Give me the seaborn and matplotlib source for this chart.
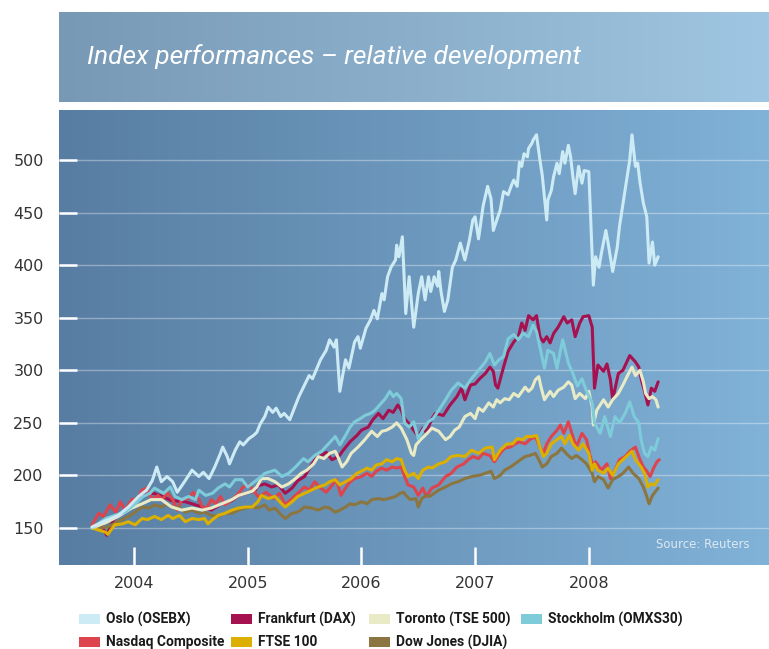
import matplotlib

matplotlib.use("Agg")
import matplotlib.pyplot as plt
import numpy as np
import pandas as pd
import seaborn as sns
from matplotlib.colors import LinearSegmentedColormap
from matplotlib.patches import Rectangle

# --- data: index levels (decimal year, index value) ---
oslo_years = [2003.63, 2003.75, 2003.86, 2003.95, 2004.04, 2004.11, 2004.16, 2004.20, 2004.24, 2004.29,
              2004.34, 2004.38, 2004.45, 2004.51, 2004.57, 2004.61, 2004.66, 2004.71, 2004.76, 2004.78,
              2004.82, 2004.84, 2004.89, 2004.93, 2004.96, 2005.01, 2005.05, 2005.08, 2005.11, 2005.15,
              2005.18, 2005.22, 2005.25, 2005.29, 2005.32, 2005.37, 2005.45, 2005.54, 2005.57, 2005.64,
              2005.69, 2005.72, 2005.76, 2005.78, 2005.81, 2005.86, 2005.89, 2005.94, 2005.97, 2005.99,
              2006.04, 2006.08, 2006.11, 2006.14, 2006.18, 2006.20, 2006.23, 2006.26, 2006.30, 2006.31,
              2006.33, 2006.36, 2006.39, 2006.42, 2006.46, 2006.50, 2006.53, 2006.56, 2006.59, 2006.61,
              2006.64, 2006.67, 2006.68, 2006.70, 2006.73, 2006.76, 2006.80, 2006.83, 2006.87, 2006.91,
              2006.95, 2006.98, 2007.00, 2007.03, 2007.07, 2007.11, 2007.14, 2007.16, 2007.20, 2007.22,
              2007.25, 2007.29, 2007.32, 2007.34, 2007.37, 2007.39, 2007.41, 2007.43, 2007.46, 2007.47,
              2007.50, 2007.51, 2007.54, 2007.57, 2007.59, 2007.63, 2007.64, 2007.67, 2007.69, 2007.72,
              2007.74, 2007.77, 2007.79, 2007.82, 2007.84, 2007.86, 2007.88, 2007.91, 2007.94, 2007.96,
              2008.00, 2008.04, 2008.06, 2008.09, 2008.11, 2008.15, 2008.17, 2008.21, 2008.25, 2008.27,
              2008.31, 2008.36, 2008.38, 2008.41, 2008.43, 2008.45, 2008.48, 2008.51, 2008.53, 2008.56,
              2008.58, 2008.61]
oslo_values = [151, 157, 162, 170, 180, 186, 195, 208, 194, 199,
               194, 184, 195, 205, 199, 203, 197, 208, 221, 227,
               218, 211, 224, 232, 229, 235, 238, 241, 249, 256,
               265, 260, 264, 256, 259, 253, 275, 295, 292, 310,
               319, 329, 322, 329, 280, 310, 302, 327, 332, 321,
               340, 348, 357, 349, 373, 367, 389, 398, 405, 419,
               408, 427, 354, 389, 341, 373, 389, 367, 389, 375,
               389, 380, 394, 375, 356, 367, 398, 405, 421, 405,
               424, 443, 446, 425, 456, 475, 463, 433, 446, 452,
               470, 467, 476, 481, 475, 498, 494, 506, 503, 511,
               516, 519, 524, 500, 486, 443, 462, 471, 484, 497,
               487, 508, 497, 514, 503, 484, 468, 494, 478, 490,
               489, 381, 408, 398, 411, 433, 421, 394, 417, 437,
               465, 500, 524, 494, 497, 479, 459, 446, 402, 422,
               400, 408]

dax_years = [2003.63, 2003.70, 2003.76, 2003.82, 2003.92, 2004.07, 2004.17, 2004.25, 2004.33, 2004.45,
             2004.60, 2004.68, 2004.77, 2004.86, 2004.92, 2005.01, 2005.06, 2005.09, 2005.15, 2005.21,
             2005.27, 2005.33, 2005.39, 2005.44, 2005.50, 2005.56, 2005.61, 2005.65, 2005.69, 2005.74,
             2005.80, 2005.84, 2005.90, 2005.96, 2006.00, 2006.06, 2006.10, 2006.15, 2006.19, 2006.24,
             2006.28, 2006.32, 2006.35, 2006.38, 2006.42, 2006.46, 2006.50, 2006.54, 2006.57, 2006.62,
             2006.65, 2006.72, 2006.78, 2006.84, 2006.88, 2006.91, 2006.96, 2007.00, 2007.04, 2007.09,
             2007.13, 2007.16, 2007.18, 2007.20, 2007.25, 2007.29, 2007.34, 2007.38, 2007.41, 2007.44,
             2007.47, 2007.51, 2007.54, 2007.57, 2007.60, 2007.63, 2007.66, 2007.69, 2007.73, 2007.78,
             2007.81, 2007.85, 2007.88, 2007.92, 2007.95, 2008.00, 2008.03, 2008.05, 2008.08, 2008.13,
             2008.16, 2008.19, 2008.21, 2008.26, 2008.30, 2008.36, 2008.41, 2008.44, 2008.46, 2008.49,
             2008.52, 2008.55, 2008.58, 2008.61]
dax_values = [150, 155, 143, 158, 167, 181, 183, 180, 176, 175,
              170, 167, 173, 176, 181, 184, 185, 190, 192, 189,
              191, 183, 188, 195, 199, 210, 218, 219, 222, 215,
              218, 224, 232, 238, 243, 246, 253, 259, 254, 262,
              260, 267, 262, 254, 249, 243, 237, 245, 241, 254,
              259, 257, 267, 275, 283, 272, 286, 287, 292, 297,
              303, 299, 286, 283, 303, 318, 327, 332, 345, 338,
              352, 348, 352, 332, 327, 332, 326, 335, 341, 351,
              345, 348, 332, 345, 351, 352, 341, 283, 305, 299,
              306, 291, 272, 297, 300, 314, 308, 303, 292, 280,
              267, 283, 280, 289]

toronto_years = [2003.63, 2003.75, 2003.86, 2003.98, 2004.07, 2004.15, 2004.24, 2004.33, 2004.42, 2004.51,
                 2004.60, 2004.68, 2004.77, 2004.86, 2004.92, 2004.98, 2005.04, 2005.08, 2005.12, 2005.18,
                 2005.24, 2005.30, 2005.36, 2005.42, 2005.47, 2005.52, 2005.58, 2005.62, 2005.67, 2005.72,
                 2005.77, 2005.80, 2005.83, 2005.87, 2005.91, 2005.97, 2006.03, 2006.09, 2006.14, 2006.18,
                 2006.22, 2006.27, 2006.31, 2006.35, 2006.40, 2006.44, 2006.46, 2006.48, 2006.52, 2006.56,
                 2006.62, 2006.68, 2006.74, 2006.78, 2006.82, 2006.86, 2006.91, 2006.96, 2007.00, 2007.03,
                 2007.07, 2007.12, 2007.16, 2007.19, 2007.22, 2007.26, 2007.30, 2007.34, 2007.38, 2007.44,
                 2007.47, 2007.50, 2007.53, 2007.56, 2007.58, 2007.61, 2007.66, 2007.69, 2007.73, 2007.78,
                 2007.82, 2007.85, 2007.88, 2007.92, 2007.97, 2008.00, 2008.03, 2008.04, 2008.07, 2008.13,
                 2008.17, 2008.21, 2008.26, 2008.30, 2008.35, 2008.38, 2008.41, 2008.45, 2008.48, 2008.50,
                 2008.53, 2008.56, 2008.59, 2008.61]
toronto_values = [150, 155, 161, 169, 173, 177, 177, 170, 167, 169,
                  167, 169, 173, 177, 181, 183, 185, 189, 197, 197,
                  194, 189, 192, 197, 202, 205, 211, 218, 216, 221,
                  223, 216, 208, 213, 221, 227, 234, 242, 237, 242,
                  243, 246, 250, 245, 234, 221, 219, 229, 234, 238,
                  245, 242, 234, 237, 243, 246, 256, 259, 254, 264,
                  261, 269, 265, 272, 269, 273, 272, 278, 275, 284,
                  280, 283, 291, 294, 284, 272, 280, 275, 281, 284,
                  289, 286, 273, 278, 273, 280, 265, 248, 262, 272,
                  265, 272, 278, 286, 297, 303, 295, 300, 289, 278,
                  273, 275, 272, 265]

stockholm_years = [2003.63, 2003.75, 2003.83, 2003.92, 2004.01, 2004.08, 2004.14, 2004.18, 2004.26, 2004.32,
                   2004.36, 2004.42, 2004.48, 2004.54, 2004.57, 2004.63, 2004.69, 2004.74, 2004.80, 2004.84,
                   2004.89, 2004.95, 2005.00, 2005.06, 2005.12, 2005.15, 2005.24, 2005.30, 2005.36, 2005.42,
                   2005.49, 2005.53, 2005.59, 2005.65, 2005.71, 2005.77, 2005.81, 2005.86, 2005.90, 2005.94,
                   2005.99, 2006.03, 2006.08, 2006.12, 2006.16, 2006.21, 2006.25, 2006.28, 2006.31, 2006.35,
                   2006.38, 2006.42, 2006.46, 2006.50, 2006.54, 2006.59, 2006.63, 2006.68, 2006.74, 2006.79,
                   2006.85, 2006.91, 2006.96, 2007.03, 2007.09, 2007.13, 2007.17, 2007.21, 2007.25, 2007.29,
                   2007.34, 2007.38, 2007.42, 2007.47, 2007.51, 2007.54, 2007.57, 2007.61, 2007.64, 2007.69,
                   2007.72, 2007.77, 2007.82, 2007.86, 2007.90, 2007.94, 2007.98, 2008.03, 2008.05, 2008.10,
                   2008.14, 2008.19, 2008.23, 2008.27, 2008.32, 2008.36, 2008.40, 2008.44, 2008.46, 2008.49,
                   2008.52, 2008.55, 2008.58, 2008.61]
stockholm_values = [150, 159, 162, 165, 173, 180, 183, 188, 183, 189,
                    180, 177, 180, 177, 186, 181, 183, 188, 192, 189,
                    196, 196, 189, 194, 199, 202, 205, 199, 202, 208,
                    216, 213, 219, 223, 230, 237, 229, 238, 246, 251,
                    254, 257, 259, 262, 267, 273, 280, 275, 278, 273,
                    250, 246, 251, 235, 243, 251, 254, 262, 272, 281,
                    288, 283, 291, 300, 308, 316, 305, 310, 313, 330,
                    334, 329, 335, 332, 343, 337, 322, 302, 319, 316,
                    302, 329, 307, 297, 285, 292, 280, 269, 250, 240,
                    256, 237, 256, 250, 259, 270, 256, 250, 234, 221,
                    218, 227, 224, 235]

nasdaq_years = [2003.63, 2003.69, 2003.73, 2003.79, 2003.84, 2003.88, 2003.92, 2003.98, 2004.03, 2004.07,
                2004.11, 2004.16, 2004.21, 2004.25, 2004.29, 2004.34, 2004.38, 2004.42, 2004.48, 2004.52,
                2004.57, 2004.60, 2004.64, 2004.68, 2004.72, 2004.76, 2004.80, 2004.86, 2004.92, 2004.96,
                2005.01, 2005.05, 2005.09, 2005.12, 2005.16, 2005.23, 2005.28, 2005.33, 2005.39, 2005.44,
                2005.50, 2005.54, 2005.59, 2005.63, 2005.69, 2005.73, 2005.78, 2005.82, 2005.86, 2005.90,
                2005.94, 2006.00, 2006.05, 2006.09, 2006.13, 2006.18, 2006.22, 2006.27, 2006.31, 2006.35,
                2006.38, 2006.41, 2006.46, 2006.50, 2006.54, 2006.57, 2006.62, 2006.68, 2006.74, 2006.79,
                2006.84, 2006.90, 2006.94, 2006.98, 2007.03, 2007.07, 2007.13, 2007.17, 2007.22, 2007.26,
                2007.31, 2007.35, 2007.39, 2007.44, 2007.48, 2007.53, 2007.57, 2007.60, 2007.63, 2007.67,
                2007.72, 2007.75, 2007.78, 2007.82, 2007.86, 2007.89, 2007.94, 2007.98, 2008.01, 2008.04,
                2008.06, 2008.11, 2008.16, 2008.19, 2008.23, 2008.27, 2008.32, 2008.36, 2008.41, 2008.45,
                2008.48, 2008.51, 2008.54, 2008.57, 2008.60, 2008.62]
nasdaq_values = [153, 164, 161, 172, 165, 175, 167, 177, 178, 186,
                 188, 177, 181, 177, 184, 177, 167, 177, 178, 184,
                 177, 170, 169, 177, 173, 180, 172, 177, 183, 189,
                 191, 186, 180, 181, 184, 178, 183, 172, 178, 183,
                 189, 186, 194, 189, 184, 189, 196, 181, 188, 194,
                 197, 199, 202, 199, 204, 207, 205, 208, 207, 208,
                 199, 191, 189, 181, 188, 180, 188, 191, 199, 202,
                 208, 211, 215, 218, 216, 221, 219, 213, 221, 226,
                 227, 230, 232, 230, 234, 237, 227, 221, 230, 237,
                 243, 248, 240, 251, 237, 227, 240, 234, 219, 208,
                 213, 205, 211, 197, 205, 215, 218, 223, 227, 215,
                 208, 204, 199, 207, 213, 215]

ftse_years = [2003.63, 2003.69, 2003.75, 2003.77, 2003.83, 2003.90, 2003.95, 2004.01, 2004.07, 2004.12,
              2004.18, 2004.24, 2004.30, 2004.34, 2004.40, 2004.45, 2004.51, 2004.57, 2004.62, 2004.65,
              2004.69, 2004.74, 2004.80, 2004.86, 2004.92, 2004.98, 2005.04, 2005.09, 2005.12, 2005.18,
              2005.24, 2005.30, 2005.33, 2005.39, 2005.44, 2005.50, 2005.56, 2005.62, 2005.68, 2005.72,
              2005.77, 2005.81, 2005.86, 2005.91, 2005.96, 2006.00, 2006.05, 2006.09, 2006.13, 2006.18,
              2006.22, 2006.27, 2006.31, 2006.35, 2006.38, 2006.41, 2006.46, 2006.50, 2006.54, 2006.59,
              2006.62, 2006.68, 2006.74, 2006.79, 2006.85, 2006.91, 2006.97, 2007.03, 2007.09, 2007.15,
              2007.17, 2007.22, 2007.28, 2007.33, 2007.37, 2007.42, 2007.45, 2007.50, 2007.54, 2007.57,
              2007.60, 2007.63, 2007.67, 2007.72, 2007.76, 2007.79, 2007.83, 2007.86, 2007.91, 2007.95,
              2008.00, 2008.03, 2008.05, 2008.08, 2008.13, 2008.17, 2008.21, 2008.26, 2008.30, 2008.34,
              2008.38, 2008.41, 2008.46, 2008.49, 2008.52, 2008.55, 2008.58, 2008.61]
ftse_values = [150, 148, 146, 144, 153, 154, 156, 153, 159, 158,
               161, 158, 162, 159, 162, 156, 159, 158, 159, 154,
               158, 162, 164, 167, 169, 170, 170, 175, 181, 178,
               180, 173, 170, 175, 180, 183, 186, 189, 191, 194,
               196, 191, 194, 197, 202, 204, 207, 205, 210, 211,
               215, 213, 216, 215, 205, 199, 202, 197, 205, 208,
               207, 211, 213, 218, 219, 218, 224, 221, 226, 227,
               215, 224, 230, 230, 235, 234, 237, 237, 238, 227,
               218, 221, 230, 234, 237, 230, 238, 230, 224, 230,
               221, 205, 211, 205, 202, 207, 200, 211, 215, 219,
               223, 215, 208, 202, 189, 192, 191, 196]

dow_years = [2003.63, 2003.70, 2003.77, 2003.86, 2003.95, 2004.01, 2004.07, 2004.13, 2004.18, 2004.24,
             2004.30, 2004.34, 2004.39, 2004.45, 2004.51, 2004.57, 2004.62, 2004.68, 2004.74, 2004.80,
             2004.86, 2004.92, 2004.98, 2005.04, 2005.09, 2005.15, 2005.19, 2005.24, 2005.28, 2005.33,
             2005.39, 2005.44, 2005.50, 2005.56, 2005.62, 2005.68, 2005.72, 2005.77, 2005.81, 2005.86,
             2005.90, 2005.94, 2006.00, 2006.05, 2006.09, 2006.15, 2006.19, 2006.24, 2006.30, 2006.34,
             2006.37, 2006.40, 2006.43, 2006.48, 2006.50, 2006.53, 2006.57, 2006.60, 2006.64, 2006.68,
             2006.74, 2006.79, 2006.85, 2006.91, 2006.97, 2007.03, 2007.09, 2007.14, 2007.17, 2007.22,
             2007.26, 2007.31, 2007.35, 2007.40, 2007.44, 2007.48, 2007.53, 2007.56, 2007.59, 2007.63,
             2007.67, 2007.72, 2007.76, 2007.80, 2007.85, 2007.89, 2007.94, 2007.98, 2008.03, 2008.05,
             2008.08, 2008.13, 2008.17, 2008.21, 2008.26, 2008.30, 2008.35, 2008.39, 2008.44, 2008.48,
             2008.51, 2008.53, 2008.56, 2008.61]
dow_values = [150, 150, 151, 156, 161, 165, 170, 169, 172, 170,
              173, 169, 170, 165, 167, 164, 165, 162, 161, 164,
              164, 167, 169, 170, 169, 172, 167, 169, 164, 159,
              164, 165, 170, 169, 167, 170, 169, 165, 167, 170,
              173, 172, 175, 173, 177, 178, 177, 178, 180, 183,
              184, 180, 177, 178, 170, 178, 181, 180, 183, 186,
              189, 192, 194, 197, 199, 200, 202, 204, 197, 200,
              205, 208, 211, 215, 218, 219, 221, 215, 208, 211,
              218, 221, 226, 221, 216, 219, 215, 211, 202, 194,
              199, 196, 188, 196, 199, 202, 208, 202, 197, 189,
              180, 173, 181, 188]

# legend order (row by row) and line colours
legend_rows = [
    ["Oslo (OSEBX)", "Frankfurt (DAX)", "Toronto (TSE 500)", "Stockholm (OMXS30)"],
    ["Nasdaq Composite", "FTSE 100", "Dow Jones (DJIA)"],
]
colors = {
    "Oslo (OSEBX)": "#cdebf4",
    "Frankfurt (DAX)": "#a6124f",
    "Toronto (TSE 500)": "#e8ebc6",
    "Stockholm (OMXS30)": "#7ecbd9",
    "Nasdaq Composite": "#de444d",
    "FTSE 100": "#dcb000",
    "Dow Jones (DJIA)": "#8b7641",
}
year_ticks = [2004, 2005, 2006, 2007, 2008]
value_ticks = [150, 200, 250, 300, 350, 400, 450, 500]

series = {
    "Frankfurt (DAX)": (dax_years, dax_values),
    "Nasdaq Composite": (nasdaq_years, nasdaq_values),
    "Dow Jones (DJIA)": (dow_years, dow_values),
    "FTSE 100": (ftse_years, ftse_values),
    "Toronto (TSE 500)": (toronto_years, toronto_values),
    "Stockholm (OMXS30)": (stockholm_years, stockholm_values),
    "Oslo (OSEBX)": (oslo_years, oslo_values),
}
df = pd.concat(
    [pd.DataFrame({"year": yrs, "value": vals, "index": name}) for name, (yrs, vals) in series.items()],
    ignore_index=True,
)

sns.set_theme(style="white")
plt.rcParams["font.family"] = ["DejaVu Sans"]

W, H = 769, 649
fig = plt.figure(figsize=(W / 100, H / 100), dpi=100)
fig.patch.set_facecolor("white")


def px_box(x0, y0, x1, y1):
    # pixel box (top-left origin) -> figure fraction [left, bottom, width, height]
    return [x0 / W, 1 - y1 / H, (x1 - x0) / W, (y1 - y0) / H]


# title banner
ax_t = fig.add_axes(px_box(59, 12, 769, 102))
banner_cmap = LinearSegmentedColormap.from_list("banner", ["#7899b5", "#9fc6e2"])
ax_t.imshow(np.linspace(0, 1, 256).reshape(1, -1), cmap=banner_cmap, aspect="auto", extent=[0, 1, 0, 1])
ax_t.set_xlim(0, 1)
ax_t.set_ylim(0, 1)
ax_t.axis("off")
ax_t.text(0.04, 0.5, "Index performances \u2013 relative development", color="white",
          fontsize=19, style="italic", va="center", ha="left",
          family=["Roboto", "DejaVu Sans"])

# main plot
ax = fig.add_axes(px_box(59, 110, 769, 565))
plot_cmap = LinearSegmentedColormap.from_list("plotbg", ["#587da2", "#81b2d8"])
ax.imshow(np.linspace(0, 1, 256).reshape(1, -1), cmap=plot_cmap, aspect="auto",
          extent=[0, 1, 0, 1], transform=ax.transAxes, zorder=0)

for name in series:
    sub = df[df["index"] == name]
    sns.lineplot(data=sub, x="year", y="value", color=colors[name], linewidth=2.2,
                 estimator=None, sort=False, ax=ax, zorder=3)

ax.set_xlim(2003.34, 2009.585)
ax.set_ylim(114.8, 547.6)
ax.set_xlabel("")
ax.set_ylabel("")
ax.set_xticks(year_ticks)
ax.set_xticklabels([str(y) for y in year_ticks])
ax.set_yticks(value_ticks)
ax.set_yticklabels([str(v) for v in value_ticks])
ax.tick_params(axis="y", left=True, direction="in", length=13, width=1.8, color="white",
               labelcolor="#333333", labelsize=11.5, pad=11)
ax.tick_params(axis="x", bottom=True, direction="in", length=13, width=1.8, color="white",
               labelcolor="#333333", labelsize=11.5, pad=8)
ax.grid(axis="y", color="white", alpha=0.35, linewidth=1)
ax.grid(axis="x", visible=False)
ax.set_axisbelow(True)
for s in ax.spines.values():
    s.set_visible(False)

ax.text(0.973, 0.046, "Source: Reuters", transform=ax.transAxes, ha="right", va="center",
        color="#dce8f2", fontsize=8.5)

# legend: swatch + label laid out in two rows
col_x = [79, 231, 369, 521]
row_y = [619, 642]
for r, row in enumerate(legend_rows):
    for c, name in enumerate(row):
        x0, yc = col_x[c], row_y[r]
        fig.patches.append(Rectangle((x0 / W, 1 - (yc + 5) / H), 21 / W, 10 / H,
                                     transform=fig.transFigure, facecolor=colors[name],
                                     edgecolor="none"))
        fig.text((x0 + 27) / W, 1 - yc / H, name, ha="left", va="center", fontsize=9.9,
                 fontweight="bold", color="#1a1a1a",
                 family=["Roboto", "DejaVu Sans"])

fig.savefig("out.png", dpi=100, facecolor="white")
